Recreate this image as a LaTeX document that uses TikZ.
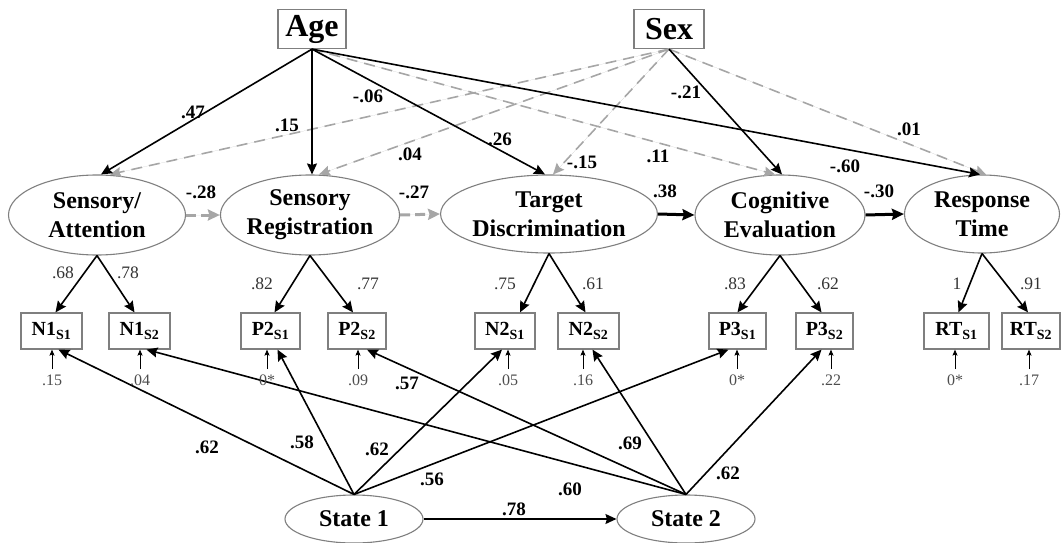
\documentclass[tikz,border=0pt]{standalone}
\usepackage{fontspec}
\setmainfont{Liberation Serif}
\usetikzlibrary{arrows.meta,shapes.geometric}
\definecolor{edgegray}{HTML}{7F7F7F}
\definecolor{dashgray}{HTML}{A6A6A6}
\definecolor{labgray}{HTML}{333333}
\definecolor{errgray}{HTML}{4D4D4D}
\begin{document}
\begin{tikzpicture}[x=1pt,y=-1pt,
  latent/.style={ellipse, draw=edgegray, line width=1.1pt, fill=white, inner sep=0pt,
    align=center, font=\fontsize{24}{29}\selectfont\bfseries},
  obsbox/.style={rectangle, draw=edgegray, line width=1.2pt, fill=white, inner sep=0pt,
    minimum height=36pt, font=\fontsize{20}{20}\selectfont\bfseries},
  covbox/.style={rectangle, draw=edgegray, line width=1.2pt, fill=white, inner sep=0pt,
    minimum height=39pt, font=\fontsize{32}{33}\selectfont\bfseries},
  tip/.style={-{Stealth[length=11pt,width=10pt,inset=1.5pt]}},
  sigpath/.style={tip, line width=1.6pt},
  nspath/.style={tip, draw=dashgray, fill=dashgray, line width=1.6pt, dash pattern=on 11pt off 7pt},
  chainsig/.style={-{Stealth[length=12pt,width=11pt,inset=1.5pt]}, line width=3pt},
  chainns/.style={-{Stealth[length=12pt,width=11pt,inset=1.5pt]}, draw=dashgray, fill=dashgray,
    line width=3pt, dash pattern=on 10pt off 5pt},
  errarrow/.style={-{Stealth[length=6pt,width=5pt,inset=1pt]}, line width=0.9pt},
  coef/.style={font=\fontsize{19}{19}\selectfont\bfseries, inner sep=0pt},
  load/.style={font=\fontsize{17.5}{18}\selectfont, text=labgray, inner sep=0pt},
  errlab/.style={font=\fontsize{16}{16}\selectfont, text=errgray, inner sep=0pt}
]
\useasboundingbox (0,0) rectangle (1061,543);

% covariates
\node[covbox, minimum width=68pt] (age) at (312,29) {Age};
\node[covbox, minimum width=70pt] (sex) at (669,29) {Sex};

% latent processing stages
\node[latent, minimum width=177pt, minimum height=80pt] (sa) at (97,215) {Sensory/\\Attention};
\node[latent, minimum width=178pt, minimum height=80pt] (sr) at (310,215) {Sensory\\Registration};
\node[latent, minimum width=216pt, minimum height=78pt] (td) at (549,214) {Target\\Discrimination};
\node[latent, minimum width=170pt, minimum height=80pt] (ce) at (780,215) {Cognitive\\Evaluation};
\node[latent, minimum width=155pt, minimum height=78pt] (rt) at (982,214) {Response\\Time};

% indicators
\node[obsbox, minimum width=61pt] (n1a) at (51.5,331) {N1\textsubscript{S1}};
\node[obsbox, minimum width=61pt] (n1b) at (139.5,331) {N1\textsubscript{S2}};
\node[obsbox, minimum width=59pt] (p2a) at (270.5,331) {P2\textsubscript{S1}};
\node[obsbox, minimum width=58pt] (p2b) at (357,331) {P2\textsubscript{S2}};
\node[obsbox, minimum width=60pt] (n2a) at (505,331) {N2\textsubscript{S1}};
\node[obsbox, minimum width=61pt] (n2b) at (588.5,331) {N2\textsubscript{S2}};
\node[obsbox, minimum width=57pt] (p3a) at (737.5,331) {P3\textsubscript{S1}};
\node[obsbox, minimum width=57pt] (p3b) at (824.5,331) {P3\textsubscript{S2}};
\node[obsbox, minimum width=65pt] (rta) at (956.5,331) {RT\textsubscript{S1}};
\node[obsbox, minimum width=58pt] (rtb) at (1031,331) {RT\textsubscript{S2}};

% state factors
\node[latent, minimum width=138pt, minimum height=48pt] (s1) at (354,519) {State 1};
\node[latent, minimum width=138pt, minimum height=48pt] (s2) at (686,519) {State 2};

% covariate effects
\draw[nspath] (sex.south) -- ([xshift=13pt]sa.north);
\draw[nspath] (sex.south) -- ([xshift=9pt]sr.north);
\draw[nspath] (sex.south) -- ([xshift=4pt]td.north);
\draw[nspath] (age.south) -- ([xshift=-5pt]ce.north);
\draw[nspath] (sex.south) -- ([xshift=4pt]rt.north);
\draw[sigpath] (age.south) -- ([xshift=4pt]sa.north);
\draw[sigpath] (age.south) -- (age.south |- sr.north);
\draw[sigpath] (age.south) -- ([xshift=-4pt]td.north);
\draw[sigpath] (age.south) -- ([xshift=-2pt]rt.north);
\draw[sigpath] (sex.south) -- ([xshift=2pt]ce.north);

% chain of stages
\draw[chainns] (sa.east) -- (sr.west);
\draw[chainns] (sr.east) -- (td.west);
\draw[chainsig] (td.east) -- (ce.west);
\draw[chainsig] (ce.east) -- (rt.west);

% loadings
\draw[sigpath] (sa.south) -- ([xshift=4pt]n1a.north);
\draw[sigpath] (sa.south) -- ([xshift=-5pt]n1b.north);
\draw[sigpath] (sr.south) -- ([xshift=4pt]p2a.north);
\draw[sigpath] (sr.south) -- ([xshift=-4pt]p2b.north);
\draw[sigpath] (td.south) -- ([xshift=15pt]n2a.north);
\draw[sigpath] (td.south) -- ([xshift=-3pt]n2b.north);
\draw[sigpath] (ce.south) -- ([xshift=0pt]p3a.north);
\draw[sigpath] (ce.south) -- ([xshift=-3pt]p3b.north);
\draw[sigpath] (rt.south) -- ([xshift=2pt]rta.north);
\draw[sigpath] (rt.south) -- ([xshift=-3pt]rtb.north);

% state loadings
\draw[sigpath] (s1.north) -- ([xshift=7pt]n1a.south);
\draw[sigpath] (s1.north) -- ([xshift=7pt]p2a.south);
\draw[sigpath] (s1.north) -- ([xshift=-3pt]n2a.south);
\draw[sigpath] (s1.north) -- ([xshift=-9pt]p3a.south);
\draw[sigpath] (s2.north) -- ([xshift=7pt]n1b.south);
\draw[sigpath] (s2.north) -- ([xshift=10pt]p2b.south);
\draw[sigpath] (s2.north) -- ([xshift=4pt]n2b.south);
\draw[sigpath] (s2.north) -- ([xshift=-3pt]p3b.south);
\draw[tip, line width=1.4pt] (s1.east) -- (s2.west);

% residuals
\foreach \x/\b/\v in {52/n1a/.15, 140/n1b/.04, 267/p2a/0*, 358/p2b/.09, 508/n2a/.05,
                      583/n2b/.16, 737/p3a/0*, 831/p3b/.22, 955/rta/0*, 1029/rtb/.17}{
  \coordinate (e-\b) at (\x,369);
  \draw[errarrow] (e-\b) -- (e-\b |- \b.south);
  \node[errlab] at (\x,380) {\v};
}

% coefficients
\node[coef] at (193,112) {.47};
\node[coef] at (287,125) {.15};
\node[coef] at (368,96) {-.06};
\node[coef] at (410,154) {.04};
\node[coef] at (500,139) {.26};
\node[coef] at (686,92) {-.21};
\node[coef] at (582,162) {-.15};
\node[coef] at (658,156) {.11};
\node[coef] at (909,129) {.01};
\node[coef] at (845,166) {-.60};
\node[coef] at (201,192) {-.28};
\node[coef] at (414,192) {-.27};
\node[coef] at (665,191) {.38};
\node[coef] at (879,191) {-.30};
\node[coef] at (207,447) {.62};
\node[coef] at (302,442) {.58};
\node[coef] at (377,449) {.62};
\node[coef] at (432,479) {.56};
\node[coef] at (407,383) {.57};
\node[coef] at (570,489) {.60};
\node[coef] at (630,443) {.69};
\node[coef] at (728,473) {.62};
\node[coef] at (514,509) {.78};

\node[load] at (63,273) {.68};
\node[load] at (128,273) {.78};
\node[load] at (262,284) {.82};
\node[load] at (368,284) {.77};
\node[load] at (505,284) {.75};
\node[load] at (593,284) {.61};
\node[load] at (735,284) {.83};
\node[load] at (828,284) {.62};
\node[load] at (957,284) {1};
\node[load] at (1031,284) {.91};
\end{tikzpicture}
\end{document}
